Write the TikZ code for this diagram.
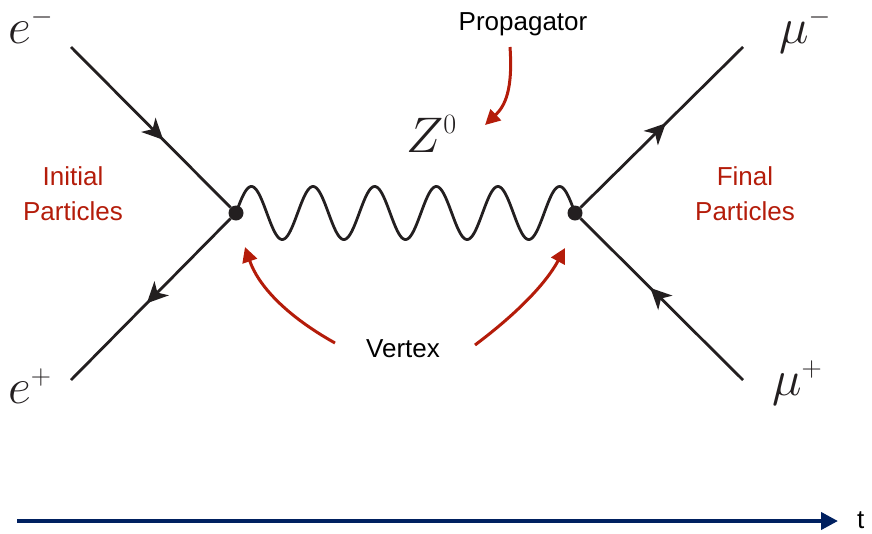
\documentclass[tikz,border=0pt]{standalone}
\usepackage{fix-cm}
\usepackage{fontspec}
\setsansfont{Liberation Sans}
\DeclareMathSizes{50}{50}{28}{20}
\usetikzlibrary{arrows.meta,decorations.markings}
\definecolor{vred}{RGB}{180,28,10}
\definecolor{tnavy}{RGB}{0,32,96}
\definecolor{lineblk}{RGB}{35,31,32}
\tikzset{
  fermion/.style={line width=2.8pt, draw=lineblk,
    postaction={decorate},
    decoration={markings, mark=at position #1 with {\arrow{Stealth[length=21pt,width=20pt,inset=6pt]}}}},
  fermion/.default=0.578,
  vertexdot/.style={circle, fill=lineblk, inner sep=0pt, minimum size=15pt},
  redarrow/.style={line width=3pt, draw=vred, -{Triangle[length=15pt,width=15pt]}},
  lbl/.style={font=\sffamily\fontsize{26}{35}\selectfont, inner sep=0pt},
  redlbl/.style={lbl, text=vred, align=center},
  mathlbl/.style={font=\fontsize{50}{60}\selectfont, inner sep=0pt, text=lineblk}
}
\begin{document}
\begin{tikzpicture}[x=1pt,y=-1pt]
\useasboundingbox (0,0) rectangle (872,533);

% vertices
\node[vertexdot] (vL) at (236,213) {};
\node[vertexdot] (vR) at (575,213) {};

% external line ends
\coordinate (em) at (71,47);
\coordinate (ep) at (71,380);
\coordinate (mm) at (743,47);
\coordinate (mp) at (743,380);

% fermion lines
\draw[fermion] (em) -- (vL);
\draw[fermion=0.525] (vL) -- (ep);
\draw[fermion=0.525] (vR) -- (mm);
\draw[fermion=0.57] (mp) -- (vR);

% propagator (wavy)
\draw[line width=2.8pt, draw=lineblk, line join=round]
  plot[domain=0:1, samples=400] ({236+339*\x},{213-26.5*sin(1980*\x)});

% particle labels
\node[mathlbl, anchor=base west] (lem) at (8,43) {$e^{\smash{-}}$};
\node[mathlbl, anchor=base west] (lep) at (8,403) {$e^+$};
\node[mathlbl, anchor=base west] (lmm) at (779,43) {$\mu^{\smash{-}}$};
\node[mathlbl, anchor=base west] (lmp) at (772,395) {$\mu^+$};
\node[mathlbl, anchor=base west] (lz) at (406,152) {$Z^0$};

% red labels
\node[redlbl, anchor=base] (init) at (73,220) {Initial\\Particles};
\node[redlbl, anchor=base] (fin) at (745,220) {Final\\Particles};

% black labels
\node[lbl, anchor=base] (prop) at (523,30) {Propagator};
\node[lbl, anchor=base] (vtx) at (403,357) {Vertex};

% red arrows
\coordinate (pa) at (510,47);
\coordinate (pb) at (485,125);
\draw[redarrow] (pa) .. controls (513,90) and (505,106) .. (pb);
\coordinate (la) at (335,343);
\coordinate (lb) at (245,247);
\draw[redarrow] (la) .. controls (285,315) and (258,285) .. (lb);
\coordinate (ra) at (475,345);
\coordinate (rb) at (565,248);
\draw[redarrow] (ra) .. controls (515,315) and (545,285) .. (rb);

% time axis
\coordinate (t0) at (17,521);
\node[lbl, anchor=west] (tl) at (857,520) {t};
\draw[line width=4pt, draw=tnavy, -{Triangle[length=17pt,width=17pt]}] (t0) -- (838,521);
\end{tikzpicture}
\end{document}
